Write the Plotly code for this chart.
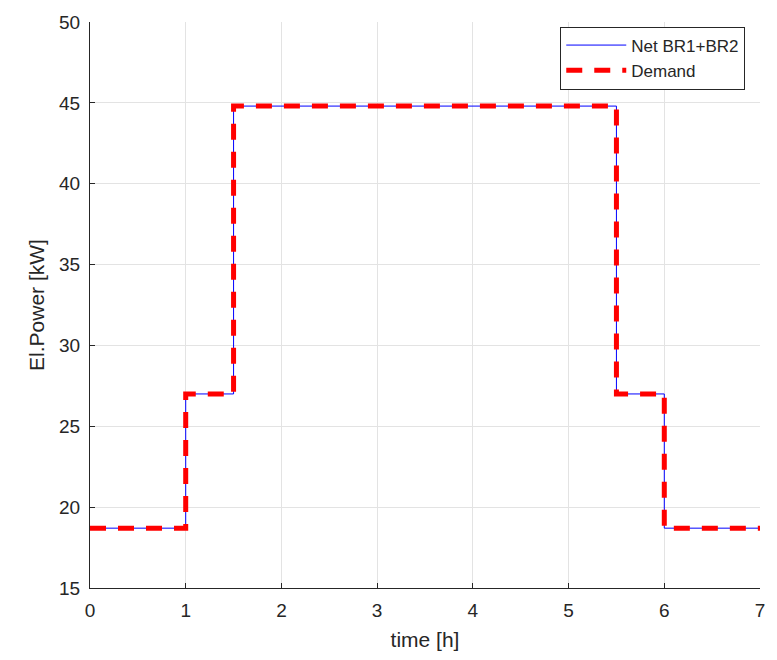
import plotly.graph_objects as go

time_h = [0, 1, 1.5, 5.5, 6, 7]
net_br = [18.7, 27.0, 44.8, 27.0, 18.7, 18.7]
demand = [18.7, 27.0, 44.8, 27.0, 18.7, 18.7]

x_ticks = [0, 1, 2, 3, 4, 5, 6, 7]
y_ticks = [15, 20, 25, 30, 35, 40, 45, 50]

fig = go.Figure()
fig.add_trace(go.Scatter(x=time_h, y=net_br, mode="lines", name="Net BR1+BR2",
                         line=dict(color="#0000ff", width=1, shape="hv")))
fig.add_trace(go.Scatter(x=time_h, y=demand, mode="lines", name="Demand",
                         line=dict(color="#ff0000", width=5, shape="hv", dash="16px,12px")))

font_family = "Liberation Sans, Arial, sans-serif"
fig.update_layout(
    width=777, height=660,
    margin=dict(l=90, r=16, t=16, b=72),
    paper_bgcolor="white", plot_bgcolor="white",
    font=dict(family=font_family, color="#262626", size=19),
    showlegend=True,
    legend=dict(x=0.978, y=0.992, xanchor="right", yanchor="top",
                bgcolor="white", bordercolor="#262626", borderwidth=1,
                itemwidth=60,
                font=dict(size=17, color="#262626"), tracegroupgap=0),
    xaxis=dict(range=[0, 7], tickvals=x_ticks, showgrid=True, gridcolor="#e3e3e3",
               showline=True, linecolor="#262626", linewidth=1, ticks="inside",
               ticklen=5, tickcolor="#262626", zeroline=False, mirror=False,
               ticklabelstandoff=5,
               title=dict(text="time [h]", font=dict(size=21), standoff=12)),
    yaxis=dict(range=[15, 50], tickvals=y_ticks, showgrid=True, gridcolor="#e3e3e3",
               showline=True, linecolor="#262626", linewidth=1, ticks="inside",
               ticklen=5, tickcolor="#262626", zeroline=False, mirror=False,
               ticklabelstandoff=5,
               title=dict(text="El.Power [kW]", font=dict(size=21), standoff=8)),
)

fig.write_html("out.html")
